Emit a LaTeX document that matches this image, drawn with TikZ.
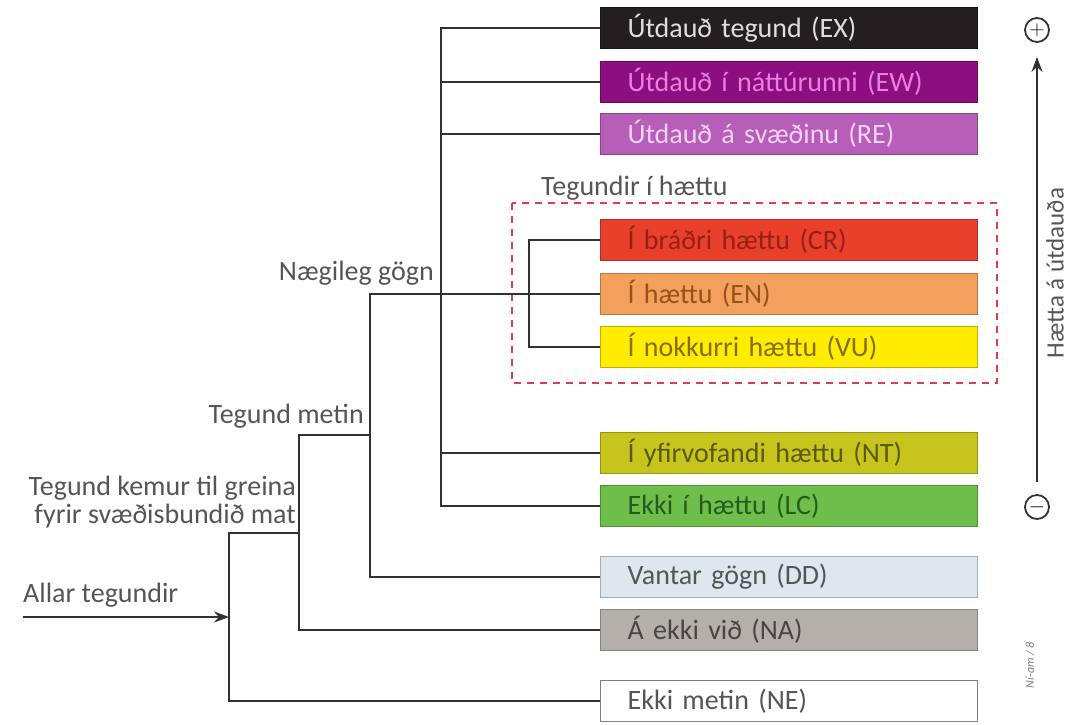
\documentclass[tikz,border=0pt]{standalone}
\usepackage{fontspec}
\setmainfont{Carlito}
\usepackage{tikz}
\usetikzlibrary{arrows.meta,positioning,calc}
\usepackage{xcolor}
\definecolor{treegray}{RGB}{50,50,50}
\definecolor{labelgray}{RGB}{85,85,85}
\definecolor{dashred}{RGB}{214,62,84}
\definecolor{exfill}{RGB}{35,31,32}
\definecolor{ewfill}{RGB}{140,14,128}
\definecolor{refill}{RGB}{183,94,184}
\definecolor{crfill}{RGB}{232,64,42}
\definecolor{enfill}{RGB}{243,160,92}
\definecolor{vufill}{RGB}{255,236,0}
\definecolor{ntfill}{RGB}{200,196,30}
\definecolor{lcfill}{RGB}{110,190,75}
\definecolor{ddfill}{RGB}{222,231,237}
\definecolor{nafill}{RGB}{180,175,168}

\tikzset{
  catbox/.style={rectangle, draw=#1!75!black, fill=#1, line width=1.2pt,
    minimum width=377pt, minimum height=41pt, anchor=west,
    inner xsep=27pt, text width=323pt, align=left,
    font=\fontsize{28}{30}\selectfont},
  tree/.style={draw=treegray, line width=2pt},
  lbl/.style={text=labelgray, inner sep=0pt, font=\fontsize{28}{28}\selectfont},
  sign/.style={circle, draw=treegray, line width=1.8pt, minimum size=24pt, inner sep=0pt,
    font=\fontsize{20}{20}\selectfont},
}

\begin{document}
\begin{tikzpicture}[x=1pt, y=-1pt]
    \useasboundingbox (0,0) rectangle (1073,724);

    % Categories
    \node[catbox=exfill, text={rgb,255:red,222;green,222;blue,222}] (EX) at (600,28) {Útdauð tegund (EX)};
    \node[catbox=ewfill, text={rgb,255:red,232;green,128;blue,222}] (EW) at (600,82) {Útdauð í náttúrunni (EW)};
    \node[catbox=refill, text={rgb,255:red,242;green,212;blue,242}] (RE) at (600,134) {Útdauð á svæðinu (RE)};
    \node[catbox=crfill, text={rgb,255:red,150;green,32;blue,20}] (CR) at (600,240) {Í bráðri hættu (CR)};
    \node[catbox=enfill, text={rgb,255:red,150;green,82;blue,30}] (EN) at (600,294) {Í hættu (EN)};
    \node[catbox=vufill, text={rgb,255:red,130;green,110;blue,20}] (VU) at (600,347) {Í nokkurri hættu (VU)};
    \node[catbox=ntfill, text={rgb,255:red,90;green,90;blue,10}] (NT) at (600,453) {Í yfirvofandi hættu (NT)};
    \node[catbox=lcfill, text={rgb,255:red,40;green,90;blue,30}] (LC) at (600,506) {Ekki í hættu (LC)};
    \node[catbox=ddfill, text=labelgray] (DD) at (600,577) {Vantar gögn (DD)};
    \node[catbox=nafill, text={rgb,255:red,70;green,70;blue,70}] (NA) at (600,630) {Á ekki við (NA)};
    \node[catbox=white, draw=gray, text=labelgray] (NE) at (600,701) {Ekki metin (NE)};

    % Threatened group
    \draw[dashred, line width=1.8pt, dash pattern=on 7pt off 6pt] (512,203) rectangle (997,383);
    \node[lbl, anchor=base west] (threat) at (541,195) {Tegundir í hættu};

    % Branch points
    \coordinate (start) at (23,617);
    \coordinate (kA) at (229,533);
    \coordinate (kB) at (299,435);
    \coordinate (kC) at (370,294);
    \coordinate (kD) at (441,28);
    \coordinate (kE) at (529,240);

    % Tree
    \draw[tree] (NE.west) -| (kA) -- (kA -| kB);
    \draw[tree] (NA.west) -| (kB) -- (kB -| kC);
    \draw[tree] (DD.west) -| (kC) -- (EN.west);
    \draw[tree] (LC.west) -| (kD) -- (EX.west);
    \foreach \b in {EW,RE,NT}
        \draw[tree] (\b.west) -- (\b.west -| kD);
    \draw[tree] (VU.west) -| (kE) -- (CR.west);
    \draw[tree, -{Stealth[length=15pt,width=11pt]}] (start) -- (start -| kA);

    % Branch labels
    \node[lbl, anchor=base west] (allar) at (23,602) {Allar tegundir};
    \node[lbl, anchor=south east, align=right] (kemur) at (296,528) {Tegund kemur til greina\\fyrir svæðisbundið mat};
    \node[lbl, anchor=base east] (metin) at (364,423) {Tegund metin};
    \node[lbl, anchor=base east] (naeg) at (434,280) {Nægileg gögn};

    % Risk axis
    \node[sign] (plus) at (1037,30) {$+$};
    \node[sign] (minus) at (1037,507) {$-$};
    \draw[tree, -{Stealth[length=15pt,width=11pt]}, shorten <=12pt, shorten >=14pt] (minus.north) -- (plus.south);
    \node[lbl, rotate=90, font=\fontsize{25}{25}\selectfont] (risk) at (1055,273) {Hætta á útdauða};
    \node[text=gray, rotate=90, font=\fontsize{12}{14}\selectfont\itshape] (credit) at (1030,665) {Ní-am / 8};
\end{tikzpicture}
\end{document}
